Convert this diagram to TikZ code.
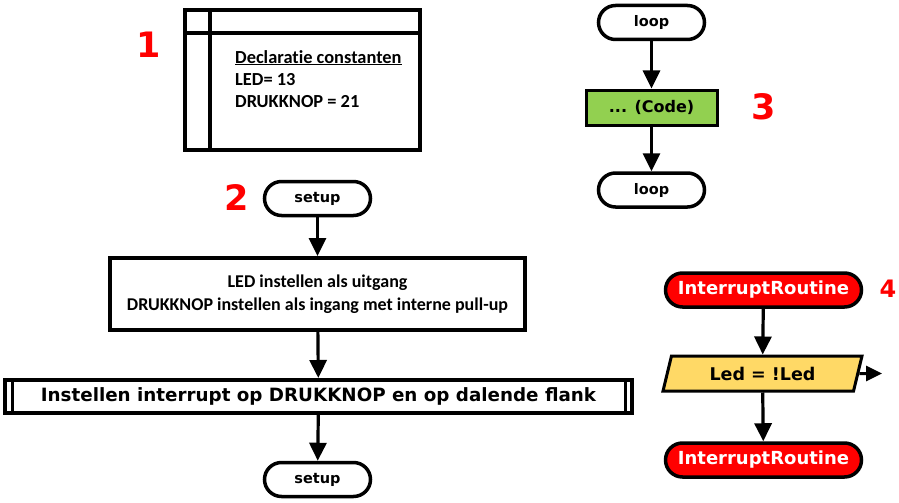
\documentclass[tikz,border=0pt]{standalone}
\usepackage{fontspec}
\setmainfont{DejaVu Sans}
\newfontfamily\calfont[Ligatures=NoCommon]{Carlito}
\usetikzlibrary{arrows.meta}
\usetikzlibrary{shapes.geometric}

\definecolor{codegreen}{HTML}{92D050}
\definecolor{ioyellow}{HTML}{FFD966}
\definecolor{isrred}{HTML}{FF0000}

\tikzset{
  term/.style={draw=black, line width=3.5pt, fill=white, rounded corners=17pt,
    minimum width=106pt, minimum height=34pt, inner sep=0pt,
    font=\bfseries\fontsize{14.5}{16}\selectfont},
  isr/.style={term, fill=isrred, text=white, minimum width=196pt,
    font=\bfseries\fontsize{18}{20}\selectfont},
  box/.style={draw=black, line width=4pt, fill=white, inner sep=0pt},
  flow/.style={line width=3.2pt, -{Triangle[length=18pt,width=17pt]}},
  nummer/.style={text=isrred, font=\bfseries\fontsize{35}{35}\selectfont}
}

\begin{document}
\begin{tikzpicture}[x=1pt, y=-1pt]
\useasboundingbox (0,0) rectangle (899,503);
% 1: declaraties
\node[nummer] (n1) at (149,45) {1};
\node[box, minimum width=235pt, minimum height=140pt] (decl) at (302.5,80) {};
\draw[line width=4pt] (210,10) -- (210,150);
\draw[line width=4pt] (185,33) -- (420,33);
\node[anchor=north west, align=left, inner sep=0pt, font=\calfont\bfseries\fontsize{18.4}{22}\selectfont] (decltxt) at (235,50)
  {\underline{Declaratie constanten}\\LED= 13\\DRUKKNOP = 21};
% 2: setup
\node[nummer] (n2) at (237,198) {2};
\node[term] (setup1) at (317.5,198.5) {setup};
\node[box, minimum width=415pt, minimum height=72pt, align=center,
  font=\calfont\bfseries\fontsize{18}{23}\selectfont] (init) at (317.5,294)
  {LED instellen als uitgang\\DRUKKNOP instellen als ingang met interne pull-up};
\node[box, minimum width=627pt, minimum height=33pt,
  font=\bfseries\fontsize{18.3}{20}\selectfont] (intr) at (318.5,396.5)
  {Instellen interrupt op DRUKKNOP en op dalende flank};
\draw[line width=3pt] ([xshift=9pt]intr.north west) -- ([xshift=9pt]intr.south west);
\draw[line width=3pt] ([xshift=-9pt]intr.north east) -- ([xshift=-9pt]intr.south east);
\node[term] (setup2) at (317.5,479.5) {setup};
\draw[flow] (setup1) -- (init);
\draw[flow] (init) -- (intr);
\draw[flow] (intr) -- (setup2);
% 3: loop
\node[nummer] (n3) at (764,107) {3};
\node[term] (loop1) at (651.5,22.5) {loop};
\node[draw=black, line width=3pt, fill=codegreen, minimum width=131pt, minimum height=35pt,
  font=\bfseries\fontsize{16}{18}\selectfont] (code) at (651.5,107.5) {... (Code)};
\node[term] (loop2) at (651.5,190) {loop};
\draw[flow] (loop1) -- (code);
\draw[flow] (code) -- (loop2);
% 4: interrupt routine
\node[nummer, font=\bfseries\fontsize{24}{24}\selectfont] (n4) at (888,289) {4};
\node[isr] (isr1) at (763.5,290) {InterruptRoutine};
\node[draw=black, line width=3pt, fill=ioyellow, trapezium, trapezium left angle=58,
  trapezium right angle=122, trapezium stretches body, minimum width=199pt,
  minimum height=35pt, inner sep=0pt, font=\bfseries\fontsize{17.5}{19}\selectfont] (io) at (762.5,373.5) {Led = !Led};
\node[isr] (isr2) at (763.5,460) {InterruptRoutine};
\coordinate (uit) at (882,373.5);
\draw[flow] (isr1) -- (io);
\draw[flow] (io) -- (isr2);
\draw[line width=3pt, -{Triangle[length=16pt,width=15pt]}] (io.east) -- (uit);
\end{tikzpicture}
\end{document}
